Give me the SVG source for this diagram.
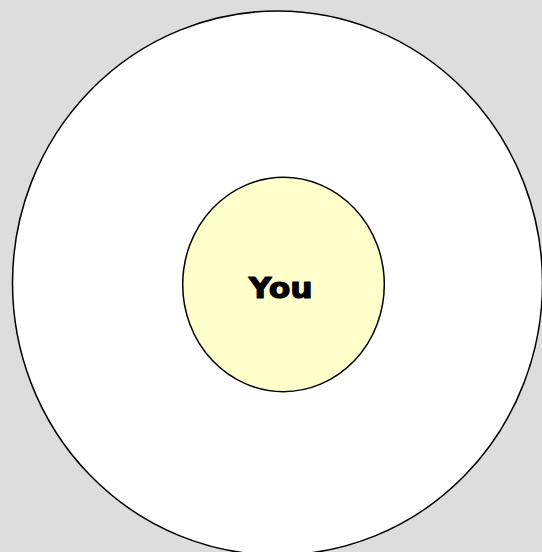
<svg xmlns="http://www.w3.org/2000/svg" width="542" height="552" viewBox="0 0 542 552">
<style>
.bg{fill:#dddddd}
.ring{fill:#ffffff;stroke:#000000;stroke-width:1.5}
.core{fill:#ffffcc;stroke:#000000;stroke-width:1.5}
.lbl{font-family:"Arial Black","DejaVu Sans","Liberation Sans",sans-serif;font-weight:900;font-size:28.5px;fill:#000000;stroke:#000000;stroke-width:1.1;stroke-linejoin:round}
</style>
<rect class="bg" x="0" y="0" width="542" height="552"/>
<g id="outer">
<ellipse class="ring" cx="277.5" cy="283" rx="265" ry="272"/>
</g>
<g id="you">
<ellipse class="core" cx="283.5" cy="284.5" rx="100.8" ry="107.2"/>
<text class="lbl" x="280.8" y="298.3" text-anchor="middle" textLength="64" lengthAdjust="spacingAndGlyphs">You</text>
</g>
<g id="connectors"/>
</svg>
